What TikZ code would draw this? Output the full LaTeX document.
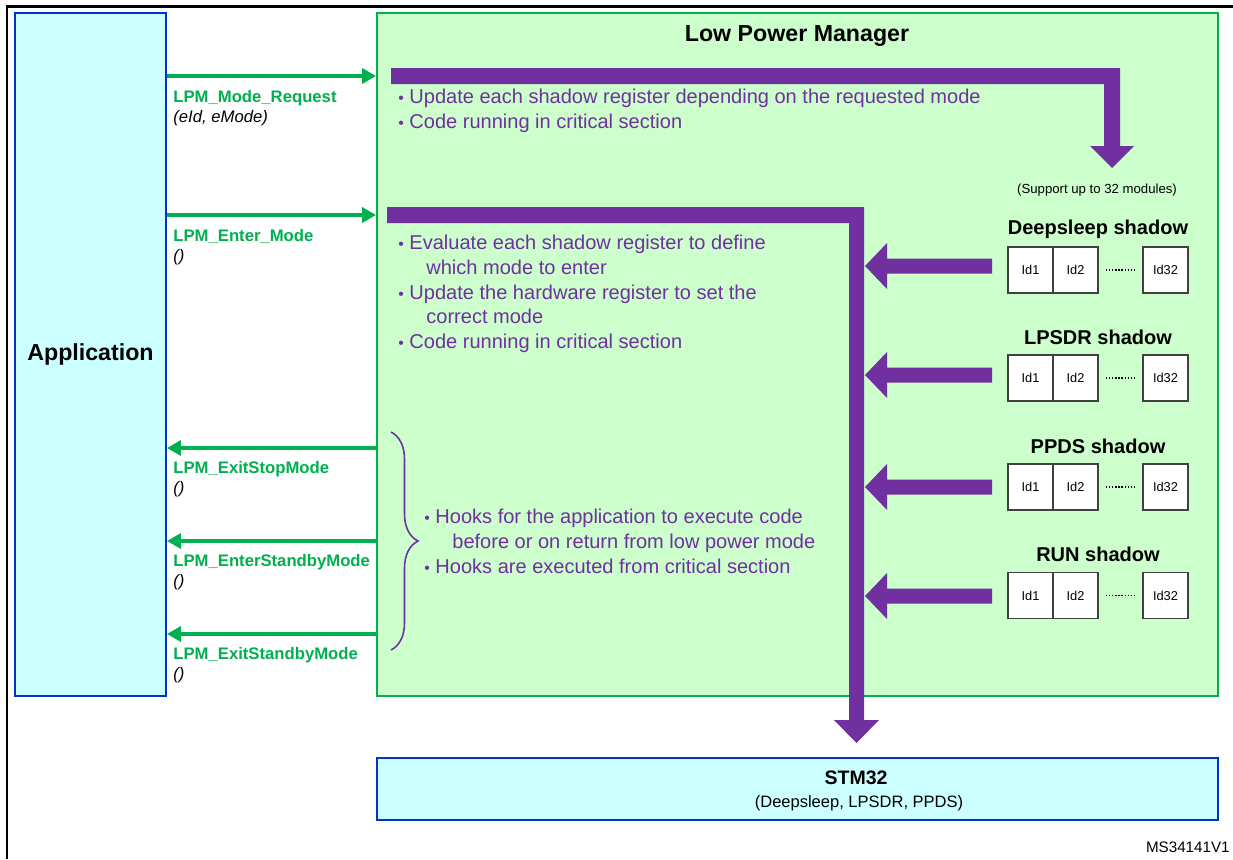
\documentclass[tikz,border=0pt]{standalone}
\usepackage{fontspec}
\setmainfont{Liberation Sans}
\usetikzlibrary{arrows.meta,decorations.pathreplacing}

\definecolor{lpmgreen}{HTML}{00B050}
\definecolor{lpmfill}{HTML}{CCFFCC}
\definecolor{appfill}{HTML}{CCFFFF}
\definecolor{appblue}{HTML}{0033CC}
\definecolor{lpmpurple}{HTML}{7030A0}

\def\fs#1#2{\fontsize{#1}{#2}\selectfont}
\def\bul{{\fs{9}{9}\textbullet}\ }
% fat arrow pointing left, tip at the given point
\def\leftblock(#1){\fill[lpmpurple] (#1) -- ++(22,-23) -- ++(0,15.5) -- ++(105,0) -- ++(0,15) -- ++(-105,0) -- ++(0,15.5) -- cycle;}

\tikzset{
	box/.style={draw, line width=0.04cm, inner sep=0},
	appbox/.style={box, draw=appblue, fill=appfill},
	lpmbox/.style={box, draw=lpmgreen, fill=lpmfill},
	cell/.style={draw=black!75, fill=white, line width=0.6pt, minimum width=0.9cm, minimum height=0.92cm, inner sep=0, font=\fs{7.3}{9}},
	callarrow/.style={draw=lpmgreen, line width=0.07cm, -{Triangle[length=0.28cm,width=0.3cm]}},
	calllabel/.style={anchor=north west, inner sep=0, align=left, text=lpmgreen, font=\fs{9.5}{11.4}\bfseries},
	note/.style={anchor=north west, inner sep=0, align=left, text=lpmpurple, font=\fs{11.4}{14}},
	shadowtitle/.style={inner sep=0, font=\fs{11.4}{13}\bfseries},
}

\begin{document}
\begin{tikzpicture}[x=0.02cm, y=-0.02cm]
			%%%%% START %%%%%
			\useasboundingbox (0,0) rectangle (1233,859);
			\fill[white] (0,0) rectangle (1233,859);
			
			% outer frame, only top and left edges show
			\draw[line width=0.06cm] (7,859) -- (7,6) -- (1233,6);
			
			\node[appbox, minimum width=3.02cm, minimum height=13.66cm, font=\fs{13.2}{15}\bfseries] (app) at (90.5,354.5) {Application};
			\node[lpmbox, minimum width=16.82cm, minimum height=13.66cm] (lpm) at (797.5,354.5) {};
			\node[appbox, minimum width=16.82cm, minimum height=1.24cm] (stm) at (797.5,789) {};
			
			\node[font=\fs{13.2}{15}\bfseries] (title) at (797,36) {Low Power Manager};
			
			% API calls between application and manager
			\coordinate (req) at (0,76);
			\coordinate (ent) at (0,215);
			\coordinate (exstop) at (0,448);
			\coordinate (enstby) at (0,541);
			\coordinate (exstby) at (0,634);
			
			\draw[callarrow] (app.east |- req) -- (lpm.west |- req);
			\draw[callarrow] (app.east |- ent) -- (lpm.west |- ent);
			\draw[callarrow] (lpm.west |- exstop) -- (app.east |- exstop);
			\draw[callarrow] (lpm.west |- enstby) -- (app.east |- enstby);
			\draw[callarrow] (lpm.west |- exstby) -- (app.east |- exstby);
			
			\node[calllabel] (reqlbl) at (173,90) {LPM\_Mode\_Request\\{\color{black}\mdseries\itshape (eId, eMode)}};
			\node[calllabel] (entlbl) at (173,229) {LPM\_Enter\_Mode\\{\color{black}\mdseries\itshape ()}};
			\node[calllabel] (exstoplbl) at (173,461) {LPM\_ExitStopMode\\{\color{black}\mdseries\itshape ()}};
			\node[calllabel] (enstbylbl) at (173,554) {LPM\_EnterStandbyMode\\{\color{black}\mdseries\itshape ()}};
			\node[calllabel] (exstbylbl) at (173,647) {LPM\_ExitStandbyMode\\{\color{black}\mdseries\itshape ()}};
			
			% request path down to the shadow registers
			\fill[lpmpurple] (391,68) -- (1120,68) -- (1120,146) -- (1134,146) -- (1112,168) -- (1090,146) -- (1104,146) -- (1104,84) -- (391,84) -- cycle;
			% enter path down to the STM32
			\fill[lpmpurple] (387,207) -- (864,207) -- (864,720) -- (879,720) -- (856.5,743) -- (834,720) -- (849,720) -- (849,223) -- (387,223) -- cycle;
			
			\node[note] (updnote) at (398,89) {\bul Update each shadow register depending on the requested mode\\\bul Code running in critical section};
			\node[note] (evalnote) at (398,235) {\bul Evaluate each shadow register to define\\\hspace*{1.4em}which mode to enter\\\bul Update the hardware register to set the\\\hspace*{1.4em}correct mode\\\bul Code running in critical section};
			
			\draw[lpmpurple, line width=0.9pt, decorate, decoration={brace, amplitude=0.54cm, aspect=0.5}] (391,432) -- (391,650);
			\node[note] (hooknote) at (424,509) {\bul Hooks for the application to execute code\\\hspace*{1.4em}before or on return from low power mode\\\bul Hooks are executed from critical section};
			
			\node[inner sep=0, font=\fs{7.5}{9}] (support) at (1097,190) {(Support up to 32 modules)};
			
			% shadow registers
			\foreach \n/\y/\ay/\lbl in {ds/270/266/Deepsleep, lp/378/375/LPSDR, pp/487/487/PPDS, rn/595.5/596/RUN}{
				\node[shadowtitle] (\n title) at (1098,\y-41) {\lbl\ shadow};
				\node[cell] (\n1) at (1030.5,\y) {Id1};
				\node[cell] (\n2) at (1075.5,\y) {Id2};
				\node[cell] (\n32) at (1165.5,\y) {Id32};
				\draw[line width=0.6pt, dash pattern=on 0.9pt off 0.9pt] ([xshift=0.14cm]\n2.east) -- ([xshift=-0.14cm]\n32.west);
				\coordinate (\n tip) at (865,\ay);
				\leftblock(\n tip)
			}
			
			\node[font=\fs{11.1}{13}\bfseries] (stmname) at (856,778) {STM32};
			\node[font=\fs{9.4}{11}] (stmmodes) at (859,803) {(Deepsleep, LPSDR, PPDS)};
			
			\node[anchor=east, inner sep=0, font=\fs{8.65}{10}] (docref) at (1230,847) {MS34141V1};
			
			%%%%% END %%%%%
\end{tikzpicture}
\end{document}
